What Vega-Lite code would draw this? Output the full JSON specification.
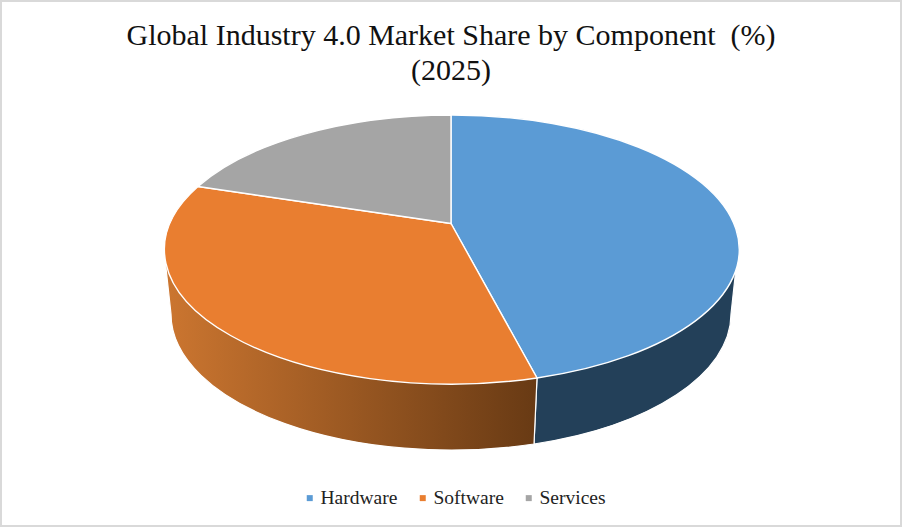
{"$schema":"https://vega.github.io/schema/vega-lite/v6.json","width":902,"height":527,"autosize":{"type":"none"},"padding":0,"background":"white","view":{"stroke":"#d9d9d9","strokeWidth":4},"title":{"text":["Global Industry 4.0 Market Share by Component\u00a0 (%)","(2025)"],"anchor":"middle","offset":-86,"font":"Liberation Serif","fontSize":30,"fontWeight":"normal","color":"#111111","lineHeight":35},"data":{"values":[{"Component":"Hardware","Share":45},{"Component":"Software","Share":37},{"Component":"Services","Share":18}]},"layer":[{"transform":[{"filter":"datum.Component==='Hardware'"}],"mark":{"type":"point","filled":true,"opacity":1,"size":4,"shape":"M287 -14 L280 50.5 A280 136 0 0 1 83 180.5 L86 114.5 Z","fill":"#234059","stroke":"white","strokeWidth":1.2}},{"transform":[{"filter":"datum.Component==='Software'"}],"mark":{"type":"point","filled":true,"opacity":1,"size":4,"shape":"M86 114.5 L83 180.5 A280 136 0 0 1 -280 50.5 L-287 -14 Z","fill":{"gradient":"linear","x1":0,"y1":0,"x2":1,"y2":0,"stops":[{"offset":0,"color":"#cc7630"},{"offset":1,"color":"#683a14"}]},"stroke":"white","strokeWidth":1.2}},{"transform":[{"filter":"datum.Component==='Hardware'"}],"mark":{"type":"point","filled":true,"opacity":1,"size":4,"fill":"#5B9BD5","stroke":"white","strokeWidth":1.4,"shape":"M0 -40 L0 -148.5 A287 134.5 0 0 1 86 114.5 Z"}},{"transform":[{"filter":"datum.Component==='Software'"}],"mark":{"type":"point","filled":true,"opacity":1,"size":4,"fill":"#E97E30","stroke":"white","strokeWidth":1.4,"shape":"M0 -40 L86 114.5 A287 134.5 0 0 1 -253 -77 Z"}},{"transform":[{"filter":"datum.Component==='Services'"}],"mark":{"type":"point","filled":true,"opacity":1,"size":4,"fill":"#A5A5A5","stroke":"white","strokeWidth":1.4,"shape":"M0 -40 L-253 -77 A287 134.5 0 0 1 0 -148.5 Z"}},{"mark":{"type":"point","filled":true,"opacity":1,"size":0,"shape":"square"},"encoding":{"color":{"field":"Component","type":"nominal","scale":{"domain":["Hardware","Software","Services"],"range":["#5B9BD5","#E97E30","#A5A5A5"]},"legend":{"orient":"none","legendX":300,"legendY":488,"direction":"horizontal","columns":3,"title":null,"symbolType":"square","symbolSize":36,"symbolStrokeWidth":0,"labelFont":"Liberation Serif","labelFontSize":19.5,"labelColor":"#222222","columnPadding":15,"labelOffset":1}},"tooltip":[{"field":"Component"},{"field":"Share"}]}}]}
